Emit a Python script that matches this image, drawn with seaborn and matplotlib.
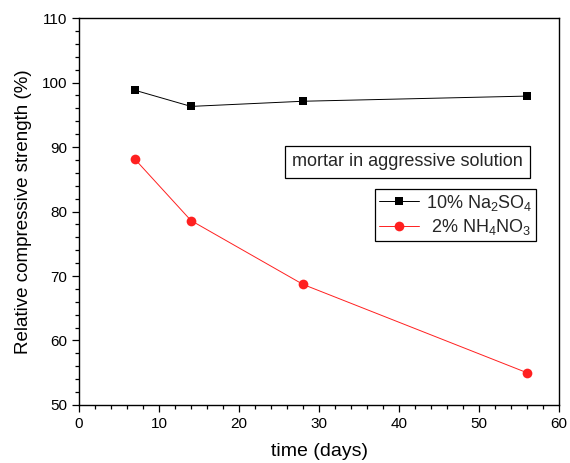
import numpy as np
import pandas as pd
import matplotlib
matplotlib.use("Agg")
import matplotlib.pyplot as plt
from matplotlib.ticker import MultipleLocator
import seaborn as sns

days = [7, 14, 28, 56]
na2so4 = [98.8, 96.3, 97.1, 97.9]
nh4no3 = [88.1, 78.6, 68.7, 55.0]

sns.set_theme(style="ticks")
plt.rcParams['font.family'] = ['Liberation Sans', 'DejaVu Sans']
plt.rcParams['mathtext.fontset'] = 'custom'
plt.rcParams['mathtext.rm'] = 'Liberation Sans'
plt.rcParams['mathtext.it'] = 'Liberation Sans'

fig = plt.figure(figsize=(5.7, 4.63), dpi=100)
ax = fig.add_axes([0.1386, 0.1253, 0.8421, 0.8357])

df1 = pd.DataFrame({'time': days, 'strength': na2so4})
df2 = pd.DataFrame({'time': days, 'strength': nh4no3})

sns.lineplot(data=df1, x='time', y='strength', ax=ax, color='black', linewidth=0.7,
             marker='s', markersize=5.5, markeredgewidth=0, label=r'10% Na$_2$SO$_4$')
sns.lineplot(data=df2, x='time', y='strength', ax=ax, color='#ff2020', linewidth=0.7,
             marker='o', markersize=7, markeredgewidth=0, label=r' 2% NH$_4$NO$_3$')

ax.set_xlim(0, 60)
ax.set_ylim(50, 110)
ax.xaxis.set_major_locator(MultipleLocator(10))
ax.xaxis.set_minor_locator(MultipleLocator(2))
ax.yaxis.set_major_locator(MultipleLocator(10))
ax.yaxis.set_minor_locator(MultipleLocator(2))
ax.tick_params(which='major', length=5, width=0.9, labelsize=11, color='black', labelcolor='black')
ax.tick_params(which='minor', length=3, width=0.9, color='black')
for s in ax.spines.values():
    s.set_linewidth(1.0)
    s.set_color('black')

ax.set_xlabel('time (days)', fontsize=14, color='black', labelpad=9)
ax.set_ylabel('Relative compressive strength (%)', fontsize=13.5, color='black', labelpad=7)

ax.text(0.684, 0.628, 'mortar in aggressive solution', transform=ax.transAxes, fontsize=13,
        va='center', ha='center',
        bbox=dict(boxstyle='square,pad=0.4', facecolor='white', edgecolor='black', linewidth=0.9))

leg = ax.legend(loc='upper right', bbox_to_anchor=(0.952, 0.558), fontsize=13, frameon=True,
                fancybox=False, framealpha=1, edgecolor='black', handlelength=2.2,
                borderpad=0.2, labelspacing=0.25, handletextpad=0.4, borderaxespad=0)
leg.get_frame().set_linewidth(0.9)

fig.savefig('out.png', dpi=100)
